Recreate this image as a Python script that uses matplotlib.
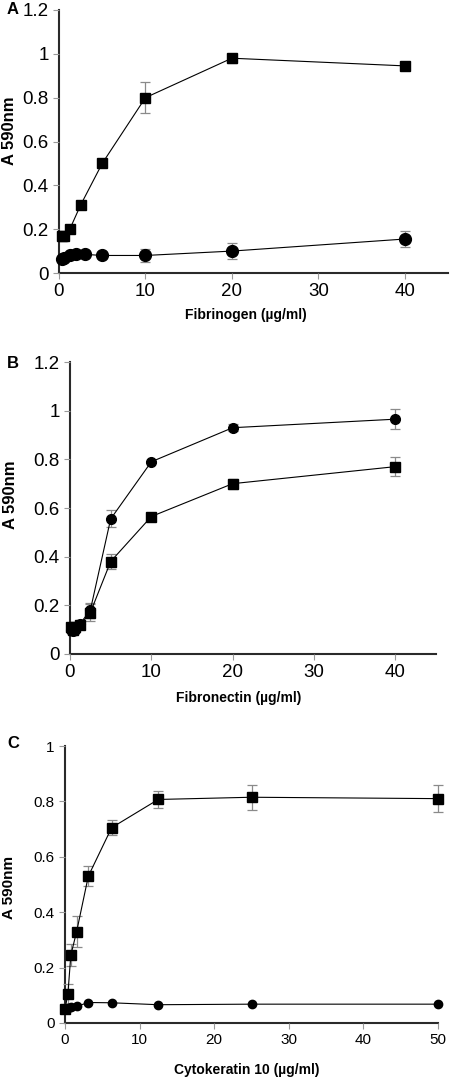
import matplotlib
matplotlib.use("Agg")
import matplotlib.pyplot as plt

# Panel A - fibrinogen
fg_sq_x = [0.3125, 0.625, 1.25, 2.5, 5, 10, 20, 40]
fg_sq_y = [0.17, 0.17, 0.20, 0.31, 0.50, 0.80, 0.98, 0.945]
fg_sq_err = [0.01, 0.01, 0.01, 0.01, 0.01, 0.07, 0.02, 0.015]
fg_ci_x = [0.3125, 0.625, 1.25, 2, 3, 5, 10, 20, 40]
fg_ci_y = [0.065, 0.07, 0.08, 0.085, 0.085, 0.08, 0.08, 0.10, 0.155]
fg_ci_err = [0.01, 0.01, 0.01, 0.01, 0.01, 0.01, 0.03, 0.035, 0.035]

# Panel B - fibronectin
fn_sq_x = [0.16, 0.3125, 0.625, 1.25, 2.5, 5, 10, 20, 40]
fn_sq_y = [0.11, 0.10, 0.11, 0.12, 0.17, 0.38, 0.565, 0.70, 0.77]
fn_sq_err = [0.01, 0.01, 0.01, 0.01, 0.035, 0.03, 0.01, 0.02, 0.04]
fn_ci_x = [0.16, 0.3125, 0.625, 1.25, 2.5, 5, 10, 20, 40]
fn_ci_y = [0.10, 0.095, 0.10, 0.125, 0.18, 0.555, 0.79, 0.93, 0.965]
fn_ci_err = [0.01, 0.01, 0.01, 0.01, 0.03, 0.035, 0.005, 0.015, 0.04]

# Panel C - cytokeratin 10
ck_x = [0, 0.39, 0.78, 1.56, 3.125, 6.25, 12.5, 25, 50]
ck_sq_y = [0.05, 0.105, 0.245, 0.33, 0.53, 0.705, 0.807, 0.815, 0.81]
ck_sq_err = [0.0, 0.035, 0.04, 0.055, 0.035, 0.027, 0.03, 0.045, 0.05]
ck_ci_y = [0.05, 0.055, 0.058, 0.06, 0.074, 0.073, 0.066, 0.068, 0.068]

ERR_COLOR = "#8a8a8a"
SPINE_COLOR = "#2a2a2a"
FONT = "Liberation Sans"

W, H = 452, 1077
fig = plt.figure(figsize=(W / 100, H / 100), dpi=100)


def px_axes(left, top, right, bottom):
    return fig.add_axes([left / W, 1 - bottom / H, (right - left) / W, (bottom - top) / H])


def style(ax, xlim, ylim, yticks, yfmt, fs):
    ax.set_xlim(*xlim)
    ax.set_ylim(*ylim)
    ax.set_yticks(yticks)
    ax.set_yticklabels([yfmt(v) for v in yticks], fontfamily=FONT, fontsize=fs)
    for lab in ax.get_xticklabels():
        lab.set_fontfamily(FONT)
        lab.set_fontsize(fs)
    for s in ["top", "right"]:
        ax.spines[s].set_visible(False)
    for s in ["left", "bottom"]:
        ax.spines[s].set_color(SPINE_COLOR)
        ax.spines[s].set_linewidth(1.5)
        ax.spines[s].set_zorder(1)
    ax.tick_params(axis="both", direction="out", length=4, width=0.8, colors="#999999",
                   labelcolor="black", labelsize=fs)


def fmt_tick(v):
    s = f"{v:.1f}"
    return s[:-2] if s.endswith(".0") else s


def series(ax, x, y, err, marker, ms):
    ax.errorbar(x, y, yerr=err, fmt="none", ecolor=ERR_COLOR, elinewidth=0.9,
                capsize=3.5, capthick=0.9, zorder=2, clip_on=False)
    ax.plot(x, y, color="black", lw=0.8, marker=marker, ms=ms, mfc="black", mec="black",
            zorder=3, clip_on=False)


# ---- A
axA = px_axes(59, 10, 448, 273)
series(axA, fg_sq_x, fg_sq_y, fg_sq_err, "s", 7.5)
series(axA, fg_ci_x, fg_ci_y, fg_ci_err, "o", 8.5)
axA.set_xticks([0, 10, 20, 30, 40])
style(axA, (0, 45), (0, 1.2), [0, 0.2, 0.4, 0.6, 0.8, 1.0, 1.2], fmt_tick, 13.5)

# ---- B
axB = px_axes(70, 362, 436, 654)
series(axB, fn_ci_x, fn_ci_y, fn_ci_err, "o", 7)
series(axB, fn_sq_x, fn_sq_y, fn_sq_err, "s", 7)
axB.set_xticks([0, 10, 20, 30, 40])
style(axB, (0, 45), (0, 1.2), [0, 0.2, 0.4, 0.6, 0.8, 1.0, 1.2], fmt_tick, 13.5)

# ---- C
axC = px_axes(65, 746, 438, 1023)
series(axC, ck_x, ck_sq_y, ck_sq_err, "s", 7)
axC.plot(ck_x, ck_ci_y, color="black", lw=0.8, marker="o", ms=6, zorder=3, clip_on=False)
axC.set_xticks([0, 10, 20, 30, 40, 50])
style(axC, (0, 50), (0, 1.0), [0, 0.2, 0.4, 0.6, 0.8, 1.0], fmt_tick, 11)

# labels
lab_kw = dict(fontfamily=FONT, fontweight="bold")
fig.text(7 / W, 1 - 10 / H, "A", fontsize=12, ha="left", va="center", **lab_kw)
fig.text(7 / W, 1 - 363 / H, "B", fontsize=12, ha="left", va="center", **lab_kw)
fig.text(7 / W, 1 - 743 / H, "C", fontsize=12, ha="left", va="center", **lab_kw)

fig.text(10 / W, 1 - 131 / H, "A 590nm", rotation=90, fontsize=12, ha="center", va="center", **lab_kw)
fig.text(11 / W, 1 - 495 / H, "A 590nm", rotation=90, fontsize=12, ha="center", va="center", **lab_kw)
fig.text(9 / W, 1 - 887 / H, "A 590nm", rotation=90, fontsize=11, ha="center", va="center", **lab_kw)

fig.text(246 / W, 1 - 315 / H, "Fibrinogen (\u00b5g/ml)", fontsize=10, ha="center", va="center", **lab_kw)
fig.text(239 / W, 1 - 698 / H, "Fibronectin (\u00b5g/ml)", fontsize=10, ha="center", va="center", **lab_kw)
fig.text(247 / W, 1 - 1070 / H, "Cytokeratin 10 (\u00b5g/ml)", fontsize=10, ha="center", va="center", **lab_kw)

fig.savefig("out.png", dpi=100)
